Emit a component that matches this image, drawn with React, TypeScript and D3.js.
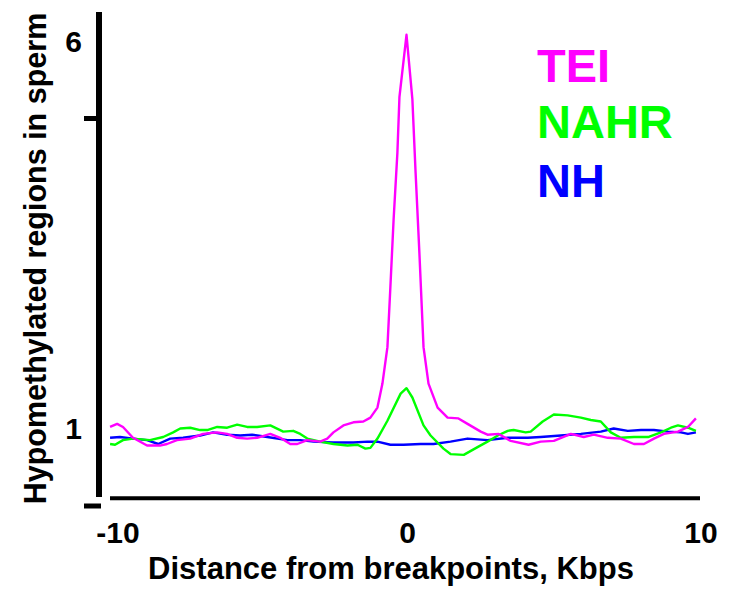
import React, { useEffect, useRef } from "react";
import * as d3 from "d3";

// distance from breakpoint (kb) and hypomethylated region enrichment
const teiKb = [-10.1, -9.86, -9.66, -9.32, -8.84, -8.4, -8.16, -7.82, -7.37, -6.93, -6.45, -6.11, -5.77, -5.43, -5.09, -4.64, -4.3, -3.96, -3.72, -3.38, -2.94, -2.7, -2.49, -2.15, -1.81, -1.47, -1.23, -0.99, -0.82, -0.65, -0.55, -0.44, -0.31, -0.24, 0, 0.2, 0.31, 0.44, 0.58, 0.75, 1.06, 1.4, 1.77, 2.08, 2.53, 2.76, 3.14, 3.55, 4.16, 4.57, 5.02, 5.6, 6.04, 6.38, 6.86, 7.3, 7.75, 8.09, 8.43, 8.77, 9.25, 9.59, 9.86];
const teiVal = [1.02, 1.06, 1.02, 0.88, 0.78, 0.78, 0.8, 0.85, 0.87, 0.93, 0.95, 0.93, 0.88, 0.87, 0.88, 0.93, 0.88, 0.8, 0.8, 0.85, 0.83, 0.87, 0.95, 1.04, 1.08, 1.09, 1.14, 1.27, 1.58, 2.05, 2.82, 3.69, 4.56, 5.28, 6.08, 5.25, 4.3, 3.26, 2.05, 1.58, 1.27, 1.14, 1.13, 1.06, 0.96, 0.92, 0.93, 0.84, 0.79, 0.83, 0.84, 0.93, 0.89, 0.92, 0.88, 0.87, 0.8, 0.8, 0.87, 0.93, 0.96, 1.02, 1.13];

const nahrKb = [-10.1, -9.93, -9.66, -9.32, -8.74, -8.29, -7.95, -7.71, -7.37, -7.03, -6.79, -6.45, -6.11, -5.77, -5.43, -5.09, -4.64, -4.2, -3.86, -3.62, -3.38, -2.94, -2.49, -2.01, -1.67, -1.4, -1.23, -0.99, -0.65, -0.2, 0, 0.2, 0.58, 0.82, 1.26, 1.5, 1.95, 2.42, 2.76, 3.11, 3.45, 3.65, 4.06, 4.23, 4.64, 5.02, 5.49, 5.94, 6.28, 6.62, 6.96, 7.3, 7.75, 8.23, 8.67, 9.01, 9.25, 9.59, 9.86];
const nahrVal = [0.8, 0.79, 0.85, 0.87, 0.85, 0.89, 0.95, 1.0, 1.01, 0.98, 0.98, 1.02, 1.01, 1.05, 1.02, 1.02, 1.04, 0.96, 0.97, 0.93, 0.87, 0.83, 0.8, 0.78, 0.79, 0.74, 0.75, 0.87, 1.1, 1.45, 1.52, 1.4, 1.04, 0.91, 0.74, 0.67, 0.66, 0.76, 0.83, 0.91, 0.97, 0.98, 0.95, 0.96, 1.09, 1.18, 1.17, 1.14, 1.11, 1.09, 0.95, 0.88, 0.89, 0.89, 0.95, 1.01, 1.04, 1.01, 0.97];

const nhKb = [-10.1, -9.76, -9.32, -8.84, -8.46, -8.05, -7.61, -7.03, -6.59, -6.11, -5.67, -5.26, -4.74, -4.06, -3.62, -3.17, -2.49, -1.81, -1.33, -0.99, -0.55, -0.1, 0.48, 0.92, 1.5, 2.08, 2.76, 3.45, 4.13, 4.57, 5.26, 5.94, 6.62, 7.06, 7.54, 7.99, 8.43, 8.91, 9.35, 9.59, 9.86];
const nhVal = [0.88, 0.89, 0.87, 0.85, 0.8, 0.87, 0.88, 0.91, 0.95, 0.92, 0.91, 0.92, 0.89, 0.85, 0.85, 0.83, 0.82, 0.82, 0.83, 0.83, 0.79, 0.79, 0.8, 0.8, 0.83, 0.87, 0.85, 0.88, 0.88, 0.89, 0.91, 0.93, 0.96, 1.0, 0.97, 0.98, 0.98, 0.96, 0.95, 0.93, 0.95];

const seriesNames = ["TEI", "NAHR", "NH"];
const xTicks = [-10, 0, 10];
const yTickMarks = [0, 5];
const yTickLabels = [1, 6];

const colors = ["#ff00ff", "#00ff00", "#0000ff"];
const FONT = "'Liberation Sans', Arial, Helvetica, sans-serif";

const App = () => {
  const svgRef = useRef<SVGSVGElement | null>(null);

  useEffect(() => {
    const width = 731;
    const height = 590;
    const svg = d3.select(svgRef.current).attr("width", width).attr("height", height);
    svg.selectAll("*").remove();

    const x = d3.scaleLinear().domain([-10, 10]).range([113, 700]);
    const y = d3.scaleLinear().domain([0, 5]).range([506, 118.5]);

    const series = [
      { kb: teiKb, val: teiVal },
      { kb: nahrKb, val: nahrVal },
      { kb: nhKb, val: nhVal },
    ];

    const line = d3
      .line<[number, number]>()
      .x((d) => x(d[0]))
      .y((d) => y(d[1]));

    // draw NH first, then NAHR, TEI on top
    [2, 1, 0].forEach((i) => {
      const s = series[i];
      const pts: [number, number][] = s.kb.map((k, j) => [k, s.val[j]]);
      svg
        .append("path")
        .attr("d", line(pts))
        .attr("fill", "none")
        .attr("stroke", colors[i])
        .attr("stroke-width", 2.4)
        .attr("stroke-linejoin", "round");
    });

    // axes
    svg
      .append("line")
      .attr("x1", 99)
      .attr("x2", 99)
      .attr("y1", 12)
      .attr("y2", 497)
      .attr("stroke", "#000")
      .attr("stroke-width", 6);

    svg
      .append("line")
      .attr("x1", 110)
      .attr("x2", 700)
      .attr("y1", 498.3)
      .attr("y2", 498.3)
      .attr("stroke", "#000")
      .attr("stroke-width", 4);

    svg
      .selectAll(".ytick")
      .data(yTickMarks)
      .join("line")
      .attr("class", "ytick")
      .attr("x1", 84)
      .attr("x2", (d) => (d === 0 ? 101 : 99))
      .attr("y1", (d) => y(d))
      .attr("y2", (d) => y(d))
      .attr("stroke", "#000")
      .attr("stroke-width", 5);

    svg
      .selectAll(".ylab")
      .data(yTickLabels)
      .join("text")
      .attr("class", "ylab")
      .attr("x", 82)
      .attr("y", (d) => y(d))
      .attr("dy", "0.35em")
      .attr("text-anchor", "end")
      .style("font-family", FONT)
      .style("font-weight", "bold")
      .style("font-size", "30px")
      .text((d) => d);

    svg
      .selectAll(".xlab")
      .data(xTicks)
      .join("text")
      .attr("class", "xlab")
      .attr("x", (d) => x(d) + (d < 0 ? 5 : 1))
      .attr("y", 543)
      .attr("text-anchor", "middle")
      .style("font-family", FONT)
      .style("font-weight", "bold")
      .style("font-size", "30px")
      .text((d) => d);

    svg
      .append("text")
      .attr("x", 391)
      .attr("y", 579)
      .attr("text-anchor", "middle")
      .style("font-family", FONT)
      .style("font-weight", "bold")
      .style("font-size", "31px")
      .text("Distance from breakpoints, Kbps");

    svg
      .append("text")
      .attr("transform", "translate(46,258.5) rotate(-90)")
      .attr("text-anchor", "middle")
      .style("font-family", FONT)
      .style("font-weight", "bold")
      .style("font-size", "30.5px")
      .text("Hypomethylated regions in sperm");

    // legend
    const legendBase = [82, 138, 197];
    svg
      .selectAll(".leg")
      .data(seriesNames)
      .join("text")
      .attr("class", "leg")
      .attr("x", 537)
      .attr("y", (d, i) => legendBase[i])
      .attr("fill", (d, i) => colors[i])
      .style("font-family", FONT)
      .style("font-weight", "bold")
      .style("font-size", "47px")
      .text((d) => d);
  }, []);

  return (
    <svg
      ref={svgRef}
      style={{ position: "absolute", left: 0, top: 0, background: "#fff" }}
    ></svg>
  );
};

export default App;
